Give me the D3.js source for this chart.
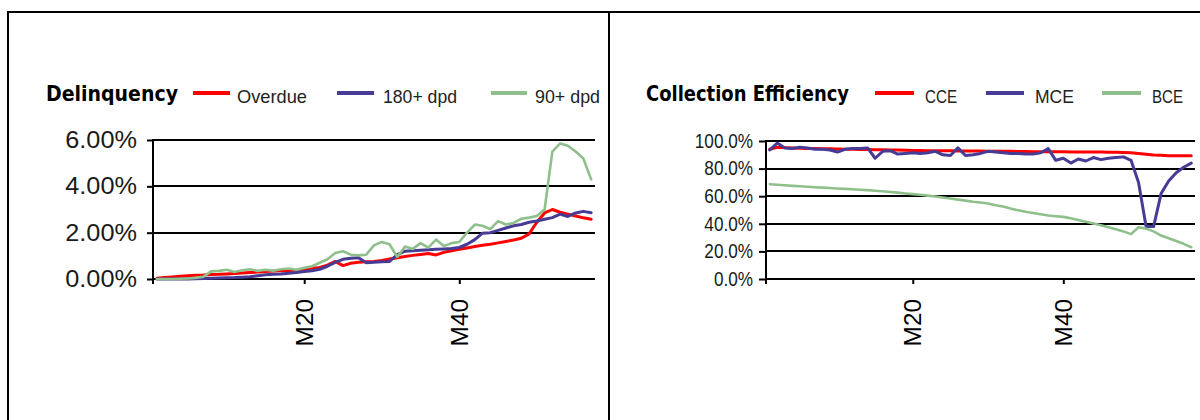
<!DOCTYPE html>
<html>
<head>
<meta charset="utf-8">
<script src="https://cdn.jsdelivr.net/npm/d3@7/dist/d3.min.js"></script>
<style>
  html, body { margin: 0; padding: 0; background: #fff; }
  svg { display: block; }
</style>
</head>
<body>
<svg id="chart" width="1200" height="420"></svg>
<script>
// ---------------- DATA ----------------
const categories = d3.range(1, 58).map(i => "M" + i);
const xTickLabels = ["M20", "M40"];

// Delinquency (percent)
const overdue = [0.03,0.06,0.09,0.12,0.14,0.16,0.17,0.19,0.20,0.22,
  0.24,0.26,0.28,0.30,0.32,0.34,0.36,0.37,0.38,0.40,
  0.45,0.50,0.60,0.76,0.58,0.68,0.72,0.74,0.76,0.80,
  0.86,0.92,0.97,1.02,1.06,1.10,1.04,1.15,1.22,1.28,
  1.34,1.40,1.46,1.50,1.56,1.62,1.68,1.76,1.95,2.45,
  2.85,3.00,2.88,2.80,2.72,2.64,2.58];
const dpd180 = [0,0,0,0,0,0.01,0.02,0.03,0.04,0.05,
  0.06,0.08,0.10,0.14,0.18,0.20,0.22,0.25,0.28,0.32,
  0.36,0.42,0.55,0.72,0.85,0.90,0.92,0.70,0.72,0.74,
  0.76,1.05,1.20,1.22,1.24,1.26,1.28,1.30,1.32,1.36,
  1.50,1.70,1.98,2.00,2.10,2.20,2.30,2.35,2.45,2.50,
  2.58,2.65,2.80,2.70,2.85,2.92,2.86];
const dpd90 = [0,0,0,0.01,0.02,0.05,0.10,0.33,0.35,0.40,
  0.30,0.38,0.42,0.35,0.40,0.36,0.42,0.45,0.40,0.48,
  0.55,0.70,0.85,1.12,1.20,1.05,1.02,1.05,1.45,1.60,
  1.50,0.95,1.40,1.30,1.55,1.35,1.70,1.42,1.55,1.60,
  2.00,2.35,2.30,2.15,2.50,2.35,2.42,2.60,2.65,2.72,
  3.00,5.50,5.85,5.75,5.50,5.20,4.30];
const delinqTicks = [0, 2, 4, 6];

// Collection efficiency (percent)
const cce = [94.0,95.5,95.2,95.0,94.8,94.6,94.5,94.4,94.3,94.2,
  94.1,94.0,93.9,93.8,93.7,93.6,93.5,93.4,93.3,93.2,
  93.1,93.0,93.0,92.9,92.9,92.8,92.8,92.7,92.7,92.6,
  92.6,92.5,92.5,92.4,92.4,92.3,92.3,92.3,92.2,92.2,
  92.1,92.1,92.0,92.0,92.0,91.9,91.8,91.7,91.5,91.0,
  90.4,89.9,89.6,89.4,89.3,89.3,89.3];
const mce = [93.5,98.5,95.0,94.5,95.5,95.0,94.0,94.0,93.5,92.0,
  94.0,94.5,94.5,95.0,87.5,92.5,93.0,90.5,91.0,91.5,
  91.0,91.5,92.5,90.0,89.5,95.0,89.5,90.0,91.0,92.5,
  92.0,91.5,91.0,91.0,90.5,90.5,91.5,94.5,86.0,87.5,
  84.0,87.0,85.5,88.0,86.5,87.5,88.0,88.5,86.0,70.0,
  38.0,38.0,62.0,71.0,77.0,81.0,84.0];
const bce = [68.7,68.3,67.9,67.5,67.2,66.8,66.5,66.2,65.9,65.6,
  65.3,65.0,64.7,64.4,64.0,63.6,63.1,62.6,62.0,61.5,
  61.0,60.4,59.8,59.0,58.3,57.5,56.8,56.0,55.4,54.7,
  53.5,52.5,51.0,49.8,48.7,47.8,46.9,46.0,45.5,45.0,
  44.0,42.8,41.5,40.2,39.0,37.5,36.0,34.5,32.5,37.5,
  36.5,34.5,31.5,29.5,27.5,25.5,23.0];
const effTicks = [0, 20, 40, 60, 80, 100];

const delinqNames = ["Overdue", "180+ dpd", "90+ dpd"];
const effNames = ["CCE", "MCE", "BCE"];

// ---------------- STYLE / LAYOUT ----------------
const COLORS = ["#ff0000", "#473c95", "#8fc08b"];
const FONT = "'Liberation Sans', Arial, sans-serif";
const TITLE_FONT = "'DejaVu Sans Condensed', 'DejaVu Sans', sans-serif";

const svg = d3.select("#chart");

// panel frames
svg.append("line").attr("x1", 7).attr("x2", 1200).attr("y1", 12).attr("y2", 12)
  .attr("stroke", "#000").attr("stroke-width", 2);
svg.append("line").attr("x1", 8).attr("x2", 8).attr("y1", 11).attr("y2", 420)
  .attr("stroke", "#000").attr("stroke-width", 2);
svg.append("line").attr("x1", 609).attr("x2", 609).attr("y1", 11).attr("y2", 420)
  .attr("stroke", "#000").attr("stroke-width", 2);

function squeeze(sel, f) {
  sel.each(function () {
    const w = this.getComputedTextLength();
    d3.select(this).attr("textLength", w * f).attr("lengthAdjust", "spacingAndGlyphs");
  });
}

function drawChart(cfg) {
  const g = svg.append("g");
  const x = d3.scalePoint().domain(categories).range([cfg.x0, cfg.x1]).padding(0.5);
  const y = d3.scaleLinear().domain([0, cfg.yMax]).range([cfg.yBot, cfg.yTop]);

  // gridlines
  g.selectAll("line.grid").data(cfg.ticks.filter(d => d > 0)).join("line")
    .attr("class", "grid")
    .attr("x1", cfg.x0).attr("x2", cfg.x1)
    .attr("y1", d => Math.round(y(d))).attr("y2", d => Math.round(y(d)))
    .attr("stroke", "#000").attr("stroke-width", 2);

  // y axis
  const yAxis = d3.axisLeft(y).tickValues(cfg.ticks)
    .tickFormat(d => d3.format(cfg.fmt)(d / 100))
    .tickSize(cfg.tickLen).tickSizeOuter(0).tickPadding(cfg.tickPad);
  const ya = g.append("g").attr("transform", `translate(${cfg.x0},0)`).call(yAxis);
  ya.select(".domain").remove();
  ya.selectAll(".tick line").attr("stroke", "#000").attr("stroke-width", 2);
  ya.selectAll(".tick text").attr("font-family", FONT).attr("font-size", cfg.tickFont)
    .attr("fill", "#1a1a1a");
  squeeze(ya.selectAll(".tick text"), cfg.tickFactor);

  // x axis
  const xAxis = d3.axisBottom(x).tickValues(xTickLabels).tickSize(5).tickSizeOuter(0).tickPadding(0);
  const xa = g.append("g").attr("transform", `translate(0,${cfg.yBot})`).call(xAxis);
  xa.select(".domain").remove();
  xa.selectAll(".tick line").attr("stroke", "#000").attr("stroke-width", 2);
  xa.selectAll(".tick text")
    .attr("font-family", FONT).attr("font-size", 23).attr("fill", "#000")
    .attr("text-anchor", "end")
    .attr("transform", "translate(0,20) rotate(-90)")
    .attr("x", 0).attr("y", 0).attr("dy", "0.35em");
  squeeze(xa.selectAll(".tick text"), 1.06);

  // axis lines
  g.append("line").attr("x1", cfg.x0).attr("x2", cfg.x1).attr("y1", cfg.yBot).attr("y2", cfg.yBot)
    .attr("stroke", "#000").attr("stroke-width", 2);
  g.append("line").attr("x1", cfg.x0).attr("x2", cfg.x0).attr("y1", Math.round(y(cfg.yMax)) - 1).attr("y2", cfg.yBot + 5)
    .attr("stroke", "#000").attr("stroke-width", 2);

  // series
  const line = d3.line().x((d, i) => x(categories[i])).y(d => y(d));
  cfg.series.forEach((s, k) => {
    g.append("path").datum(s).attr("d", line)
      .attr("fill", "none").attr("stroke", COLORS[k])
      .attr("stroke-width", k === 2 ? 2.6 : 3)
      .attr("stroke-linejoin", "round").attr("stroke-linecap", "round");
  });

  // title
  const t = g.append("text").attr("x", cfg.titleX).attr("y", 101)
    .attr("font-family", TITLE_FONT).attr("font-weight", "bold").attr("font-size", 22)
    .attr("fill", "#000").text(cfg.title)
    .attr("textLength", cfg.titleW).attr("lengthAdjust", "spacingAndGlyphs");

  // legend
  cfg.names.forEach((n, k) => {
    const L = cfg.legend[k];
    g.append("line").attr("x1", L[0]).attr("x2", L[1]).attr("y1", 93).attr("y2", 93)
      .attr("stroke", COLORS[k]).attr("stroke-width", 4);
    g.append("text").attr("x", L[2]).attr("y", 103)
      .attr("font-family", FONT).attr("font-size", 19).attr("fill", "#222")
      .text(n).attr("textLength", L[3]).attr("lengthAdjust", "spacingAndGlyphs");
  });
}

drawChart({
  x0: 153, x1: 595, yTop: 140, yBot: 279, yMax: 6,
  ticks: delinqTicks, fmt: ".2%", tickLen: 6, tickPad: 10, tickFont: 23, tickFactor: 1.1,
  series: [overdue, dpd180, dpd90], names: delinqNames,
  title: "Delinquency", titleX: 46, titleW: 132,
  legend: [[193, 230, 237, 70], [337, 374, 383, 74], [491, 527, 535, 65]]
});

drawChart({
  x0: 766, x1: 1195, yTop: 141, yBot: 279, yMax: 100,
  ticks: effTicks, fmt: ".1%", tickLen: 7, tickPad: 6, tickFont: 19.5, tickFactor: 0.88,
  series: [cce, mce, bce], names: effNames,
  title: "Collection Efficiency", titleX: 646, titleW: 203,
  legend: [[875, 914, 925, 32], [986, 1024, 1035, 39], [1102, 1141, 1152, 31]]
});
</script>
</body>
</html>
